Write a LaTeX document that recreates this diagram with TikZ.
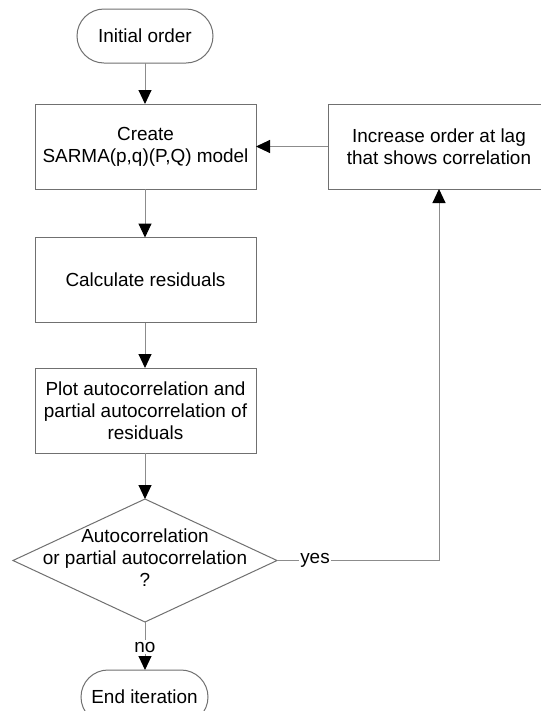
\documentclass[tikz,border=0pt]{standalone}
\usepackage{fontspec}
\setmainfont{Liberation Sans}
\usetikzlibrary{arrows.meta,shapes.geometric}
\definecolor{edgegray}{HTML}{707070}
\definecolor{linkgray}{HTML}{8C8C8C}
\begin{document}
\begin{tikzpicture}[x=0.75pt,y=-0.75pt,
  font=\fontsize{14.2pt}{16.5pt}\selectfont,
  every node/.style={inner sep=0pt, outer sep=0pt},
  terminal/.style={draw=edgegray, line width=0.75pt, rectangle, rounded corners=20.25pt,
    minimum height=40.5pt, align=center},
  process/.style={draw=edgegray, line width=0.75pt, rectangle,
    minimum width=165.75pt, minimum height=63.75pt, align=center},
  decision/.style={draw=edgegray, line width=0.75pt, diamond,
    minimum width=198pt, minimum height=92.25pt},
  link/.style={draw=linkgray, line width=0.75pt,
    -{Triangle[length=10.5pt,width=9.75pt,color=black]}},
  plain/.style={draw=linkgray, line width=0.75pt},
  tag/.style={fill=white, inner sep=1pt}
]
  \useasboundingbox (0,0) rectangle (540,711);
  \fill[white] (0,0) rectangle (540,711);

  \node[terminal, minimum width=102pt] (start) at (145,36) {Initial order};
  \node[process] (create) at (145.5,146.5) {Create\\SARMA(p,q)(P,Q) model};
  \node[process, minimum width=166.5pt] (incr) at (439,146.5) {Increase order at lag\\that shows correlation};
  \node[process] (calc) at (145.5,280) {Calculate residuals};
  \node[process] (plot) at (145.5,410.5) {Plot autocorrelation and\\partial autocorrelation of\\residuals};
  \node[decision] (dec) at (145,560.5) {};
  \node[align=center] (dectext) at (145,558) {Autocorrelation\\or partial autocorrelation\\?};
  \node[terminal, minimum width=95.25pt] (stop) at (144.5,697) {End iteration};

  \coordinate (turn) at (439,560.5);

  \draw[link] (start) -- (start |- create.north);
  \draw[link] (create.south -| start) -- (calc.north -| start);
  \draw[link] (calc.south -| start) -- (plot.north -| start);
  \draw[link] (plot.south -| dec) -- (dec.north);
  \draw[link] (incr.west) -- (create.east);
  \draw[plain] (dec.east) -- (turn);
  \draw[link] (turn) -- (incr.south);
  \draw[link] (dec.south) -- (stop.north -| dec);

  \node[tag] (yes) at (315,560.5) {yes};
  \node[tag] (no) at (145,647) {no};
\end{tikzpicture}
\end{document}
